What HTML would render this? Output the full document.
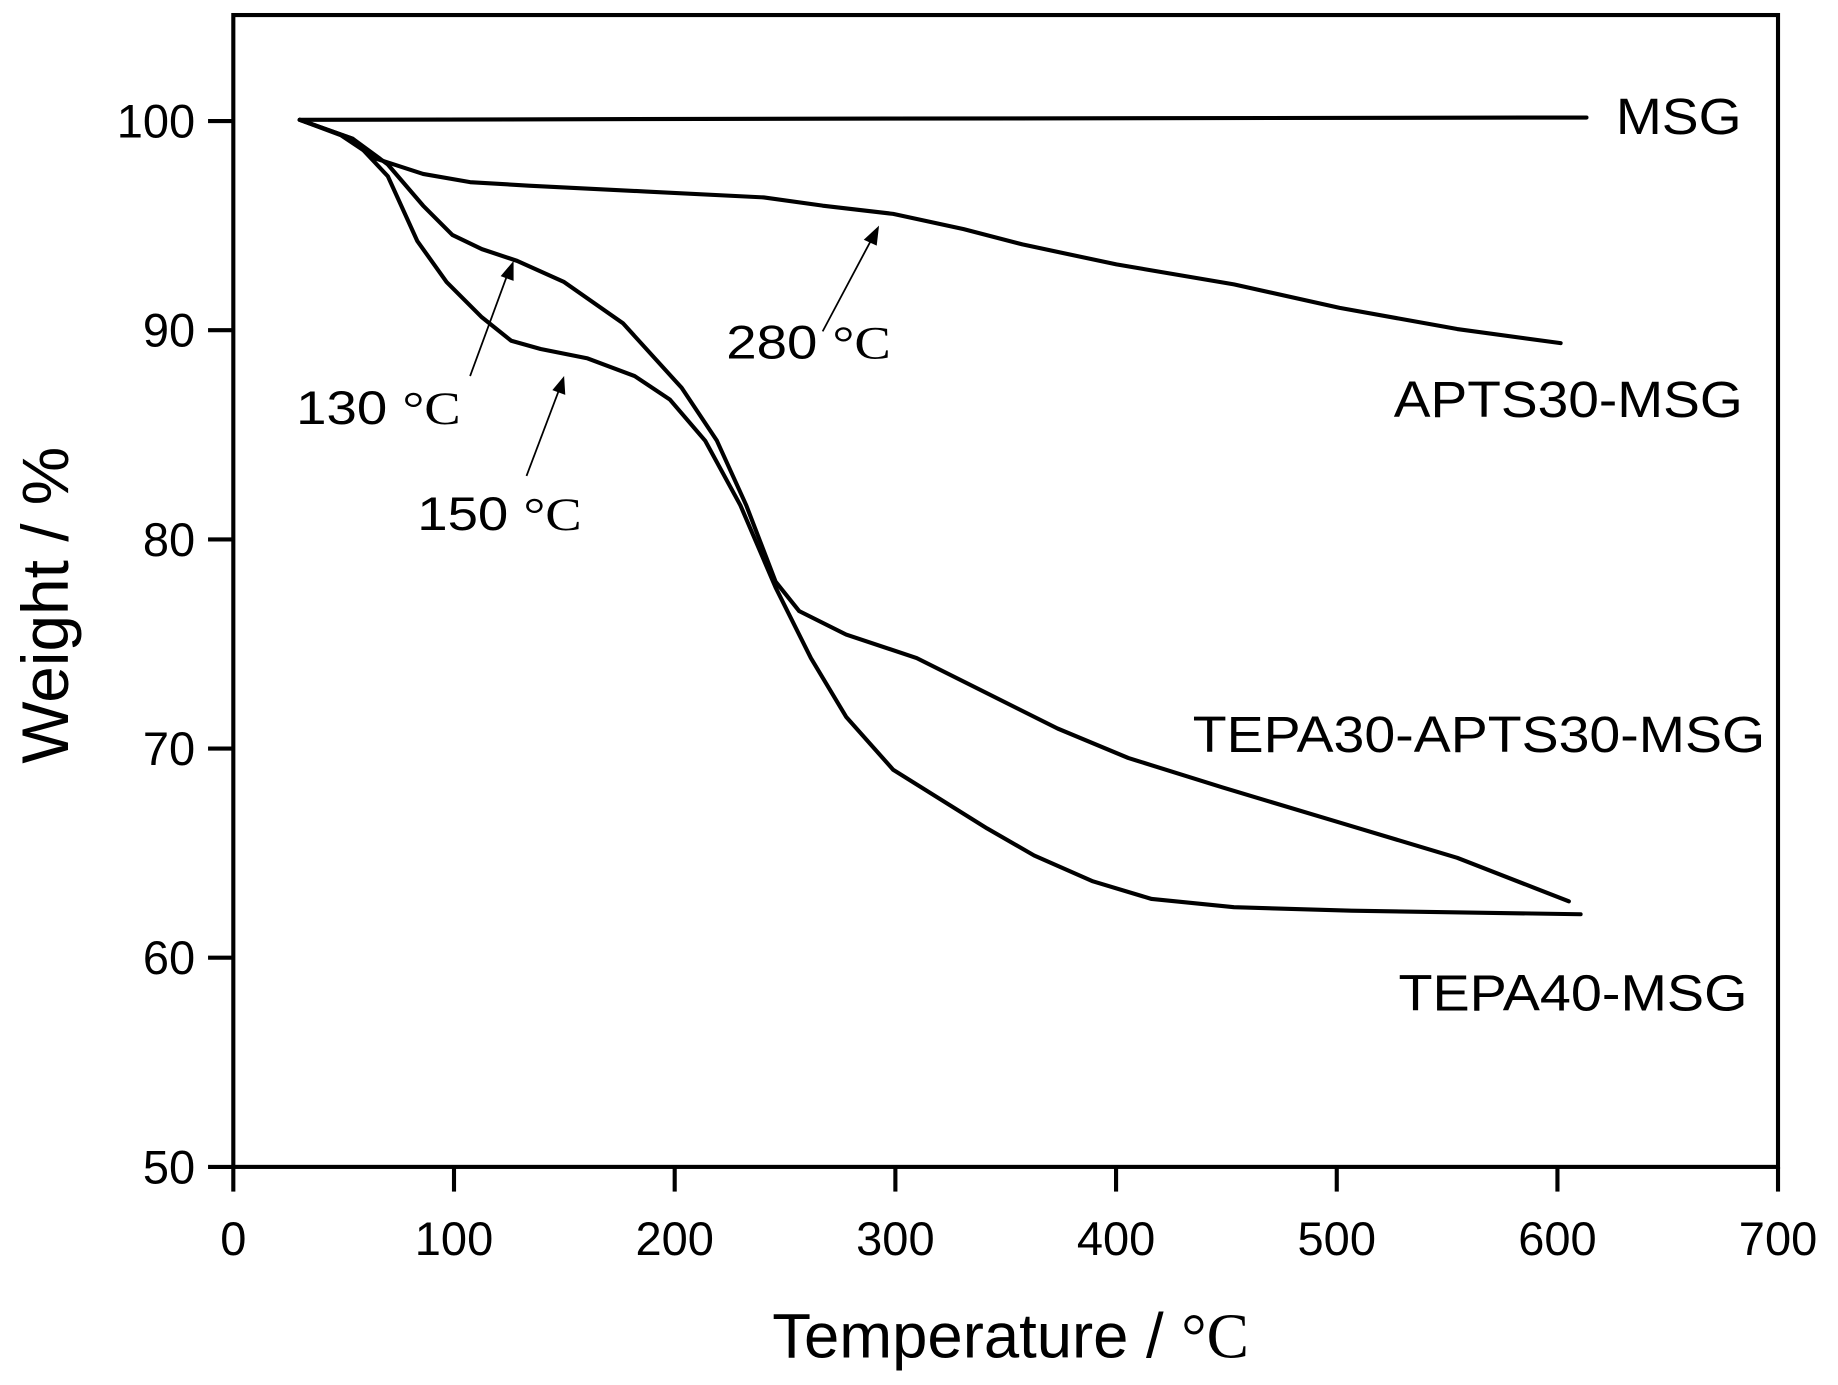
<!DOCTYPE html>
<html><head><meta charset="utf-8"><style>html,body{margin:0;padding:0;background:#fff}svg{display:block}</style></head>
<body>
<svg width="1838" height="1385" viewBox="0 0 1564 1178.6" xmlns="http://www.w3.org/2000/svg" font-family="'Liberation Sans', Arial, sans-serif">
<rect width="1564" height="1178.6" fill="#fff"/>
<rect x="198.5" y="12.8" width="1314.5" height="980.2" fill="none" stroke="#000" stroke-width="3.5"/>
<g stroke="#000" stroke-width="3.5">
<line x1="198.5" y1="993" x2="198.5" y2="1014"/><line x1="386.3" y1="993" x2="386.3" y2="1014"/><line x1="574.1" y1="993" x2="574.1" y2="1014"/><line x1="761.9" y1="993" x2="761.9" y2="1014"/><line x1="949.7" y1="993" x2="949.7" y2="1014"/><line x1="1137.5" y1="993" x2="1137.5" y2="1014"/><line x1="1325.3" y1="993" x2="1325.3" y2="1014"/><line x1="1513" y1="993" x2="1513" y2="1014"/>
<line x1="177" y1="993" x2="198.5" y2="993"/><line x1="177" y1="815" x2="198.5" y2="815"/><line x1="177" y1="637" x2="198.5" y2="637"/><line x1="177" y1="459" x2="198.5" y2="459"/><line x1="177" y1="281" x2="198.5" y2="281"/><line x1="177" y1="103" x2="198.5" y2="103"/>
</g>
<g font-size="40" text-anchor="middle" fill="#000">
<text x="198.5" y="1068">0</text><text x="386.3" y="1068">100</text><text x="574.1" y="1068">200</text><text x="761.9" y="1068">300</text><text x="949.7" y="1068">400</text><text x="1137.5" y="1068">500</text><text x="1325.3" y="1068">600</text><text x="1513" y="1068">700</text>
</g>
<g font-size="40" text-anchor="end" fill="#000">
<text x="166" y="1007">50</text><text x="166" y="829">60</text><text x="166" y="651">70</text><text x="166" y="473">80</text><text x="166" y="295">90</text><text x="166" y="117">100</text>
</g>
<text x="860" y="1155" font-size="54" text-anchor="middle">Temperature / <tspan font-family="'Liberation Serif', serif">°C</tspan></text>
<text transform="translate(58,515) rotate(-90)" font-size="56" text-anchor="middle">Weight / %</text>
<g fill="none" stroke="#000" stroke-width="3.5" stroke-linejoin="round" stroke-linecap="round">
<polyline points="255,102 700,101 1350,100"/>
<polyline points="255,102 290,115 320,135 360,148 400,155 450,158 550,163 650,168 700,175 760,182 820,195 870,208 950,225 1050,242 1140,262 1240,280 1328,292"/>
<polyline points="255,102 300,118 330,140 360,175 385,200 410,212 440,222 480,240 530,275 580,330 610,375 635,430 660,495 680,520 720,540 780,560 840,590 900,620 960,645 1040,670 1140,700 1240,730 1335,767"/>
<polyline points="255,102 300,118 330,150 355,205 380,240 410,270 435,290 460,297 500,305 540,320 570,340 600,375 630,430 660,500 690,560 720,610 760,655 800,680 840,705 880,728 930,750 980,765 1050,772 1150,775 1345,778"/>
</g>
<g stroke="#000" stroke-width="1.5">
<line x1="700" y1="282" x2="742" y2="203"/><line x1="400" y1="320" x2="432" y2="233"/><line x1="448" y1="405" x2="476" y2="331"/>
</g>
<g fill="#000">
<polygon points="748,192 735,204 746,209"/>
<polygon points="437,222 426,235 437,239"/>
<polygon points="480,320 470,332 481,336"/>
</g>
<g font-size="40" fill="#000">
<text x="618" y="305" textLength="140" lengthAdjust="spacingAndGlyphs">280 <tspan font-family="'Liberation Serif', serif">°C</tspan></text>
<text x="252" y="361" textLength="140" lengthAdjust="spacingAndGlyphs">130 <tspan font-family="'Liberation Serif', serif">°C</tspan></text>
<text x="355" y="451" textLength="140" lengthAdjust="spacingAndGlyphs">150 <tspan font-family="'Liberation Serif', serif">°C</tspan></text>
</g>
<g font-size="43" fill="#000">
<text x="1375" y="114" textLength="107" lengthAdjust="spacingAndGlyphs">MSG</text>
<text x="1186" y="355" textLength="297" lengthAdjust="spacingAndGlyphs">APTS30-MSG</text>
<text x="1015" y="640" textLength="487" lengthAdjust="spacingAndGlyphs">TEPA30-APTS30-MSG</text>
<text x="1190" y="860" textLength="297" lengthAdjust="spacingAndGlyphs">TEPA40-MSG</text>
</g>
</svg>
</body></html>
